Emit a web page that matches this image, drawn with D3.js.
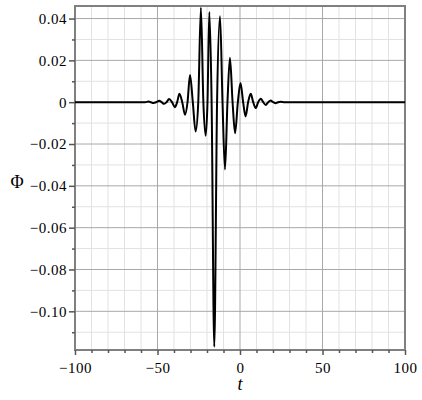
<!DOCTYPE html>
<html>
<head>
<meta charset="utf-8">
<script src="https://cdn.jsdelivr.net/npm/d3@7"></script>
<style>
  body { margin: 0; background: #fff; }
  svg text { font-family: "Liberation Serif", "Times New Roman", "DejaVu Serif", serif !important; }
</style>
</head>
<body>
<div id="chart"></div>
<script>
// wave packet: extrema plus the zero crossings between them
const tValues = [-100, -62, -57.5, -55.5, -54, -52.5, -50.7, -49, -47.5, -46, -44.5, -43, -41.2, -39.5,
  -38.1, -36.7, -35, -33.3, -31.8, -30.3, -28.6, -26.9, -25.3, -23.7, -22.2, -20.8, -19.7, -18.6,
  -17.2, -15.6, -13.9, -12.1, -10.6, -9.1, -7.6, -6.1, -4.5, -3.0, -1.3, 0.3, 1.9, 3.4, 4.9, 6.5,
  8.0, 9.5, 11.0, 12.6, 14.1, 15.6, 17.1, 18.6, 20.1, 21.6, 23.1, 24.6, 27, 32, 100];
const phiValues = [0, 0, 0, 0.0003, 0, -0.0004, 0, 0.0007, 0, -0.0008, 0, 0.0015, 0, -0.0024,
  0, 0.0040, 0, -0.0060, 0, 0.0130, 0, -0.0140, 0, 0.0452, 0, -0.0160, 0, 0.0431,
  0, -0.1170, 0, 0.0411, 0, -0.0322, 0, 0.0212, 0, -0.0148, 0, 0.0092, 0, -0.0068, 0, 0.0040,
  0, -0.0028, 0, 0.0016, 0, -0.0013, 0, 0.0008, 0, -0.0005, 0, 0.0002, 0, 0, 0];

const xTicks = [-100, -50, 0, 50, 100];
const xMinorTicks = d3.range(-90, 100, 10).filter(v => v % 50 !== 0);
const yTicks = [-0.10, -0.08, -0.06, -0.04, -0.02, 0, 0.02, 0.04];
const yMinorTicks = [-0.11, -0.09, -0.07, -0.05, -0.03, -0.01, 0.01, 0.03];
const xTickLabels = ["\u2212100", "\u221250", "0", "50", "100"];
const yTickLabels = ["\u22120.10", "\u22120.08", "\u22120.06", "\u22120.04", "\u22120.02", "0", "0.02", "0.04"];

const W = 422, H = 400;
const plot = { left: 75, right: 405, top: 6, bottom: 350 };

const svg = d3.select("#chart").append("svg")
  .attr("width", W)
  .attr("height", H);

const x = d3.scaleLinear().domain([-100, 100]).range([plot.left, plot.right]);
const y = d3.scaleLinear().domain([-0.1185, 0.046]).range([plot.bottom, plot.top]);

// grid: minor first, then major
svg.append("g").selectAll("line").data(xMinorTicks).join("line")
  .attr("x1", d => x(d)).attr("x2", d => x(d))
  .attr("y1", plot.top).attr("y2", plot.bottom)
  .attr("stroke", "#e2e2e2").attr("stroke-width", 1);
svg.append("g").selectAll("line").data(yMinorTicks).join("line")
  .attr("x1", plot.left).attr("x2", plot.right)
  .attr("y1", d => y(d)).attr("y2", d => y(d))
  .attr("stroke", "#e2e2e2").attr("stroke-width", 1);
svg.append("g").selectAll("line").data(xTicks).join("line")
  .attr("x1", d => x(d)).attr("x2", d => x(d))
  .attr("y1", plot.top).attr("y2", plot.bottom)
  .attr("stroke", "#a8a8a8").attr("stroke-width", 1);
svg.append("g").selectAll("line").data(yTicks).join("line")
  .attr("x1", plot.left).attr("x2", plot.right)
  .attr("y1", d => y(d)).attr("y2", d => y(d))
  .attr("stroke", "#a8a8a8").attr("stroke-width", 1);

// frame
svg.append("rect")
  .attr("x", plot.left).attr("y", plot.top)
  .attr("width", plot.right - plot.left).attr("height", plot.bottom - plot.top)
  .attr("fill", "none").attr("stroke", "#808080").attr("stroke-width", 2);

// axes
const xAxis = d3.axisBottom(x).tickValues(xTicks).tickSize(5).tickSizeOuter(0)
  .tickFormat((d, i) => xTickLabels[i]);
const xMinorAxis = d3.axisBottom(x).tickValues(xMinorTicks).tickSize(3).tickSizeOuter(0).tickFormat("");
const yAxis = d3.axisLeft(y).tickValues(yTicks).tickSize(6).tickSizeOuter(0)
  .tickFormat((d, i) => yTickLabels[i]);
const yMinorAxis = d3.axisLeft(y).tickValues(yMinorTicks).tickSize(3).tickSizeOuter(0).tickFormat("");

function styleAxis(g) {
  g.attr("font-family", null);
  g.select(".domain").remove();
  g.selectAll(".tick line").attr("stroke", "#555").attr("stroke-width", 1.5);
  g.selectAll(".tick text")
    .attr("fill", "#000")
    .style("font-size", "15px")
    .style("letter-spacing", "0.5px");
}

svg.append("g").attr("transform", `translate(0,${plot.bottom})`).call(xAxis).call(styleAxis)
  .selectAll(".tick text").attr("dy", "1.1em").attr("y", 6);
svg.append("g").attr("transform", `translate(0,${plot.bottom})`).call(xMinorAxis).call(styleAxis);
svg.append("g").attr("transform", `translate(${plot.left},0)`).call(yAxis).call(styleAxis)
  .selectAll(".tick text").attr("x", -8);
svg.append("g").attr("transform", `translate(${plot.left},0)`).call(yMinorAxis).call(styleAxis);

// the curve
const points = tValues.map((t, i) => ({ t: t, phi: phiValues[i] }));
const line = d3.line()
  .x(d => x(d.t))
  .y(d => y(d.phi))
  .curve(d3.curveMonotoneX);

svg.append("path")
  .datum(points)
  .attr("d", line)
  .attr("fill", "none")
  .attr("stroke", "#000")
  .attr("stroke-width", 2)
  .attr("stroke-linejoin", "round");

// axis titles
svg.append("text")
  .attr("x", 240)
  .attr("y", 390)
  .attr("text-anchor", "middle")
  .style("font-size", "18px")
  .style("font-style", "italic")
  .text("t");

svg.append("text")
  .attr("x", 17)
  .attr("y", 188)
  .attr("text-anchor", "middle")
  .style("font-size", "18px")
  .text("\u03A6");
</script>
</body>
</html>
